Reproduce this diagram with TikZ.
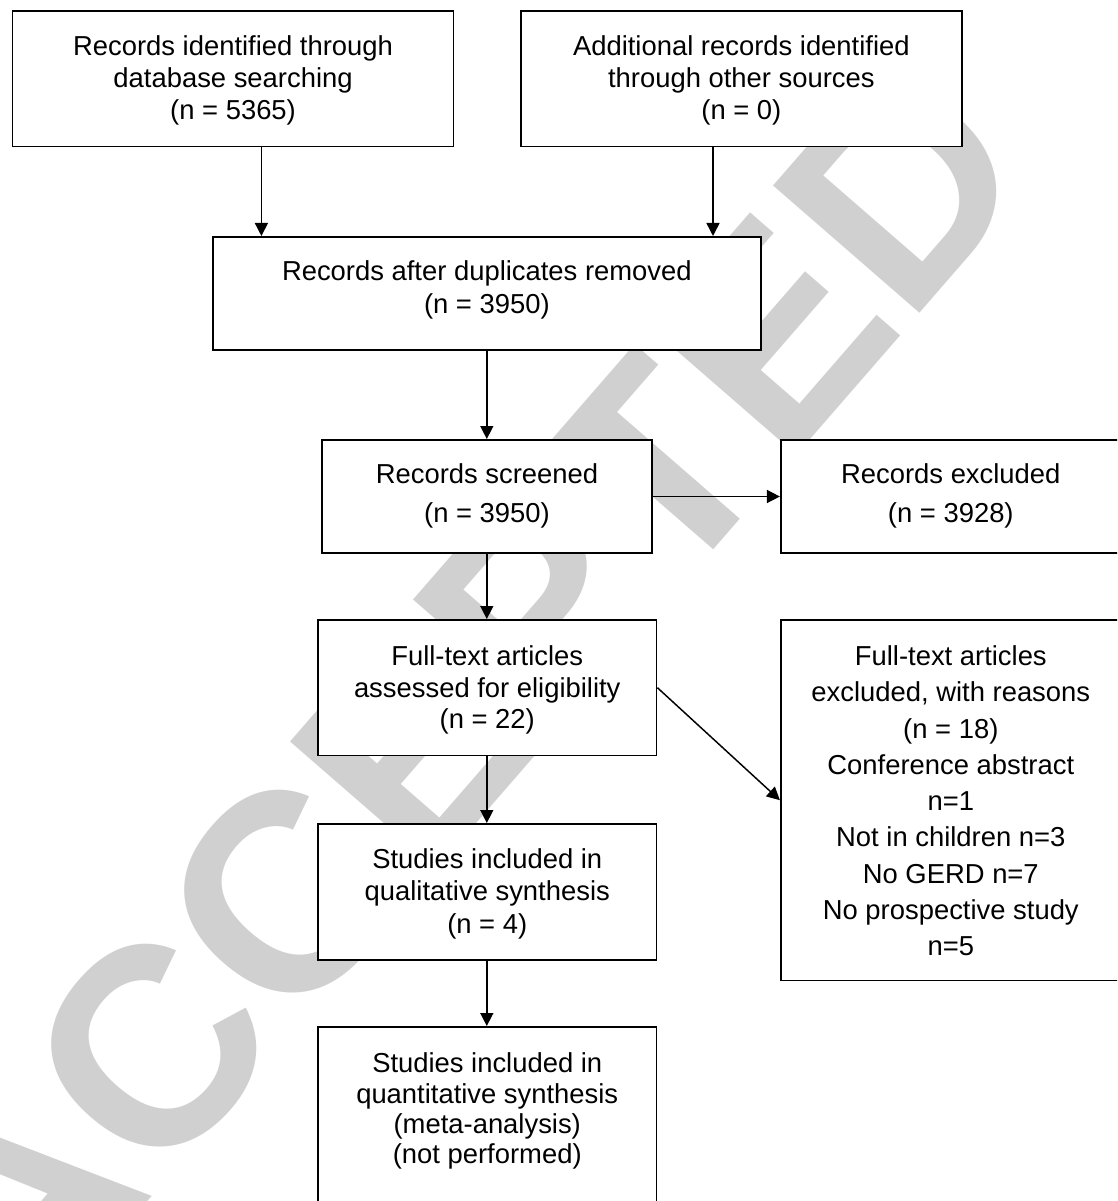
\documentclass[tikz,border=0pt]{standalone}
\usepackage{fontspec}
\setmainfont{Liberation Sans}
\usetikzlibrary{arrows.meta}
\definecolor{wmgray}{RGB}{208,208,208}
% #1 line pitch, #2 lines
\newcommand\boxlines[2]{\fontsize{20.55pt}{#1}\selectfont\begin{tabular}[t]{@{}c@{}}#2\end{tabular}}
\begin{document}
\begin{tikzpicture}[x=0.75pt,y=-0.75pt,
  flowbox/.style={draw=black, line width=1.25pt, fill=white, rectangle, inner sep=0pt, anchor=north},
  rbox/.style={flowbox, anchor=north west, minimum width=255.1pt},
  arr/.style={draw=black, line width=1.1pt, -{Triangle[length=9.75pt,width=9.75pt]}},
  wmtext/.style={text=wmgray, inner sep=0pt, font=\fontsize{211.5pt}{211.5pt}\selectfont\bfseries}]
\useasboundingbox (0,0) rectangle (1117,1201);
\clip (0,0) rectangle (1117,1201);
\fill[white] (0,0) rectangle (1117,1201);

% watermark
\node[wmtext, rotate=49] (wmark) at (459,695) {ACCEPTED};

% boxes
\node[flowbox, minimum width=330.8pt, text height=33.2pt, text depth=68.55pt] (b1) at (233.05,10)
  {\boxlines{24pt}{Records identified through\\database searching\\(n = 5365)}};
\node[flowbox, minimum width=331pt, text height=33.2pt, text depth=68.55pt] (b2) at (741.35,10)
  {\boxlines{24pt}{Additional records identified\\through other sources\\(n = 0)}};
\node[flowbox, minimum width=410.9pt, text height=33pt, text depth=51.75pt] (b3) at (486.85,236)
  {\boxlines{24.75pt}{Records after duplicates removed\\(n = 3950)}};
\node[flowbox, minimum width=247.8pt, text height=33pt, text depth=52pt] (b4) at (487,439)
  {\boxlines{29.25pt}{Records screened\\(n = 3950)}};
\node[rbox, text height=33pt, text depth=52pt] (rx) at (779.9,439)
  {\boxlines{29.25pt}{Records excluded\\(n = 3928)}};
\node[flowbox, minimum width=254pt, text height=34.3pt, text depth=67.5pt] (b5) at (487.25,619)
  {\boxlines{23.75pt}{Full-text articles\\assessed for eligibility\\(n = 22)}};
\node[rbox, text height=34.3pt, text depth=236.25pt] (b6) at (779.9,619)
  {\boxlines{27.19pt}{Full-text articles\\excluded, with reasons\\(n = 18)\\Conference abstract\\n=1\\Not in children n=3\\No GERD n=7\\No prospective study\\n=5}};
\node[flowbox, minimum width=254pt, text height=33.2pt, text depth=69pt] (b7) at (487.25,823)
  {\boxlines{24.4pt}{Studies included in\\qualitative synthesis\\(n = 4)}};
\node[flowbox, minimum width=254pt, text height=34.5pt, text depth=150pt] (b8) at (487.25,1026)
  {\boxlines{22.7pt}{Studies included in\\quantitative synthesis\\(meta-analysis)\\(not performed)}};

% connector columns
\coordinate (colA) at (261.4,0);
\coordinate (colB) at (713,0);
\coordinate (colC) at (486.8,0);

\draw[arr] (b1.south -| colA) -- (b3.north -| colA);
\draw[arr] (b2.south -| colB) -- (b3.north -| colB);
\draw[arr] (b3.south -| colC) -- (b4.north -| colC);
\draw[arr] (b4.east) -- (rx.west);
\draw[arr] (b4.south -| colC) -- (b5.north -| colC);
\draw[arr] (b5.east) -- (b6.west);
\draw[arr] (b5.south -| colC) -- (b7.north -| colC);
\draw[arr] (b7.south -| colC) -- (b8.north -| colC);
\end{tikzpicture}
\end{document}
